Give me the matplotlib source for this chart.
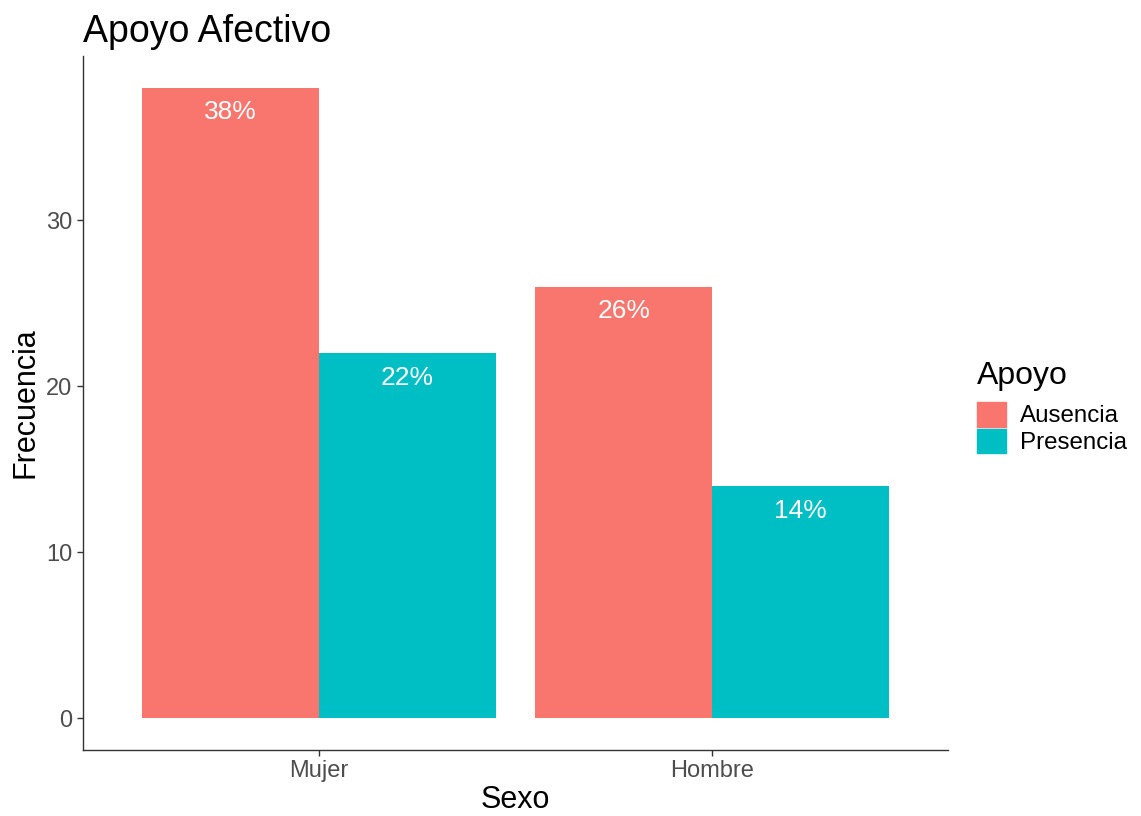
import matplotlib
matplotlib.use("Agg")
import matplotlib.pyplot as plt
import matplotlib.patches as mpatches
import numpy as np

plt.rcParams['font.family'] = ['Liberation Sans', 'DejaVu Sans']

# datos
sexo = ["Mujer", "Hombre"]
apoyo = ["Ausencia", "Presencia"]
frecuencia = {"Ausencia": [38, 26], "Presencia": [22, 14]}
etiquetas = {"Ausencia": ["38%", "26%"], "Presencia": ["22%", "14%"]}
colores = {"Ausencia": "#F8766D", "Presencia": "#00BFC4"}

fig = plt.figure(figsize=(11.41, 8.16), dpi=100)
ax = fig.add_axes([83/1141, 66/816, (948-83)/1141, (750-56)/816])

x = np.arange(1, len(sexo) + 1)
w = 0.45
for i, a in enumerate(apoyo):
    pos = x - w/2 + i*w
    ax.bar(pos, frecuencia[a], width=w, color=colores[a])
    for px, v, lab in zip(pos, frecuencia[a], etiquetas[a]):
        ax.annotate(lab, (px, v), xytext=(0, -9), textcoords="offset points",
                    ha="center", va="top", color="white", fontsize=19)

ax.set_xlim(0.4, 2.6)
ax.set_ylim(-1.9, 39.9)
ax.set_xticks(x)
ax.set_xticklabels(sexo)
ax.set_yticks([0, 10, 20, 30])
ax.tick_params(axis="both", colors="#333333", labelcolor="#4D4D4D",
               labelsize=17, length=4, width=1)
for s in ["top", "right"]:
    ax.spines[s].set_visible(False)
for s in ["left", "bottom"]:
    ax.spines[s].set_color("#333333")
    ax.spines[s].set_linewidth(1)

ax.set_xlabel("Sexo", fontsize=22, labelpad=2)
ax.set_ylabel("Frecuencia", fontsize=22, labelpad=4)
ax.set_title("Apoyo Afectivo", fontsize=27, loc="left", pad=10)

handles = [mpatches.Patch(color=colores[a], label=a) for a in apoyo]
leg = fig.legend(handles=handles, title="Apoyo", loc="upper left",
                 bbox_to_anchor=(967/1141, 1 - 351/816), frameon=False,
                 fontsize=17.4, title_fontsize=23, handlelength=1.2,
                 handleheight=1.2, handletextpad=0.6, labelspacing=0.05,
                 borderaxespad=0)
leg._legend_box.align = "left"
leg._legend_box.sep = 8

fig.savefig("out.png", dpi=100)
